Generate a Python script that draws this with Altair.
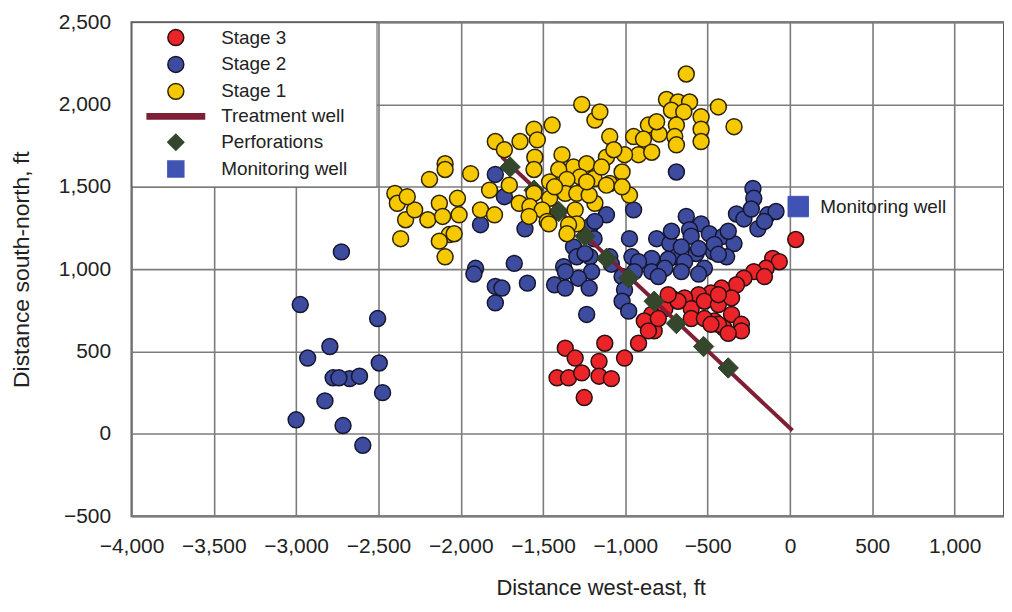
import altair as alt
import pandas as pd

FONT = "Liberation Sans"

# ---------------- data (ft) ----------------
stage1_x = [-630, -750, -680, -610, -435, -720, -645, -540, -340, -690, -540, -860, -795, -700, -690,
            -950, -890, -1095, -920, -1005, -1115, -1020, -1095, -1185, -975, -1265, -1185, -1155,
            -1445, -1555, -1640, -1535, -1790, -1735, -1550, -1555, -1385, -1315, -1405, -1235, -1275,
            -1355, -1460, -1190, -1115, -1365, -1295, -1460, -1555, -1645, -1580, -1505, -1305, -1475,
            -1585, -1295, -1705, -1825, -1880, -1795, -2095, -2190, -1940, -2400, -2385, -2335, -2280,
            -2200, -2130, -2110, -2020, -2010, -2365, -2070, -2130, -2095, -1465, -1345, -1220, -1355,
            -2040, -2095, -1430, -1235, -1145, -1070, -840, -810, -540, -1020, -2325]
stage1_y = [2185, 2030, 2015, 2015, 1985, 1965, 1955, 1925, 1865, 1875, 1850, 1875, 1820, 1805, 1755,
            1805, 1790, 1805, 1695, 1695, 1680, 1590, 1520, 1400, 1450, 2000, 1905, 1955,
            1875, 1850, 1775, 1785, 1775, 1725, 1680, 1605, 1695, 1620, 1605, 1640, 1560,
            1545, 1530, 1550, 1510, 1460, 1460, 1430, 1460, 1400, 1380, 1360, 1360, 1290,
            1320, 1275, 1510, 1480, 1360, 1330, 1640, 1545, 1580, 1460, 1400, 1300, 1360,
            1300, 1400, 1320, 1430, 1330, 1185, 1210, 1170, 1075, 1275, 1270, 1450, 1215,
            1215, 1605, 1500, 1530, 1620, 1725, 1710, 1895, 1775, 1500, 1440]

stage2_x = [-1790, -1735, -1880, -1610, -1675, -1910, -1375, -690, -950, -1115, -1215, -975, -1190,
            -1315, -1295, -1215, -1095, -960, -810, -730, -630, -540, -490, -405, -325, -340, -610,
            -690, -570, -465, -385, -1185, -1245, -720, -600, -660, -555, -460, -375, -280, -225,
            -220, -235, -135, -85, -195, -155, -435, -520, -640, -740, -840, -920, -1085, -945, -840,
            -760, -660, -555, -800, -1020, -1205, -1285, -1365, -1430, -1365, -1220, -1005, -1020,
            -980, -1235, -1790, -1750, -1595, -1790, -1920,
            -2725, -2975, -2505, -2795, -2930, -2495, -2775, -2675, -2615, -2740, -2475, -2825,
            -3000, -2715, -2595]
stage2_y = [1575, 1440, 1270, 1245, 1035, 1005, 1015, 1590, 1360, 1330, 1260, 1185, 1185,
            1135, 1075, 1075, 1075, 1075, 1185, 1155, 1320, 1275, 1215, 1200, 1335, 1155, 1240,
            1075, 1095, 1105, 1075, 1290, 1095, 1230, 1200, 1135, 1125, 1150, 1230, 1305, 1490,
            1430, 1365, 1330, 1350, 1245, 1290, 1090, 1005, 1045, 1060, 1065, 1045, 1030, 985, 985,
            1005, 985, 970, 955, 955, 985, 945, 985, 905, 885, 885, 875, 805,
            745, 725, 895, 885, 915, 795, 970,
            1105, 785, 700, 530, 460, 430, 340, 335, 350, 340, 250, 200,
            85, 50, -70]

stage3_x = [35, -105, -65, -145, -220, -280, -325, -415, -480, -555, -640, -720, -760, -840, -600,
            -520, -435, -355, -295, -400, -460, -600, -885, -825, -920, -1125, -1365, -155, -355,
            -435, -680, -740, -520, -435, -295, -375, -480, -800, -860, -1005, -1160, -1160, -1085,
            -1305, -1415, -1345, -1265, -1250]
stage3_y = [1180, 1065, 1045, 1005, 985, 945, 905, 885, 855, 845, 825, 825, 760, 725, 760,
            805, 785, 725, 665, 640, 685, 700, 685, 625, 550, 550, 520, 955, 825,
            845, 805, 845, 700, 665, 625, 610, 665, 700, 625, 460, 440, 350, 335,
            460, 340, 340, 370, 220]

perf_x = [-375, -525, -690, -825, -980, -1115, -1245, -1405, -1555, -1700]
perf_y = [400, 530, 670, 805, 945, 1065, 1200, 1350, 1480, 1620]

well_x = [-1750, 15]
well_y = [1680, 20]

monitor_x = [50]
monitor_y = [1380]

SERIES = ["Stage 3", "Stage 2", "Stage 1", "Treatment well", "Perforations", "Monitoring well"]
FILLS = ["#ea2429", "#3d4c9e", "#f6c800", "#7d1f35", "#34472d", "#4052b4"]
STROKES = ["#2a1010", "#161630", "#2e2400", "#7d1f35", "#34472d", "#4052b4"]
SHAPES = ["circle", "circle", "circle", "M-3.6,-0.33H3.6V0.33H-3.6Z", "diamond", "square"]

X_TICKS = list(range(-4000, 1001, 500))
Y_TICKS = list(range(-500, 2501, 500))


def frame(xs, ys, name):
    return pd.DataFrame({"x": xs, "y": ys, "series": [name] * len(xs)})


d1 = frame(stage1_x, stage1_y, "Stage 1")
d2 = frame(stage2_x, stage2_y, "Stage 2")
d3 = frame(stage3_x, stage3_y, "Stage 3")
dp = frame(perf_x, perf_y, "Perforations")
dw = frame(well_x, well_y, "Treatment well")
dm = frame(monitor_x, monitor_y, "Monitoring well")

# ---------------- scales / axes / legend ----------------
xs = alt.Scale(domain=[-4000, 1300], nice=False, zero=False)
ys = alt.Scale(domain=[-500, 2500], nice=False, zero=False)

xaxis = alt.Axis(values=X_TICKS, format=",.0f", grid=True, domain=False, ticks=False, tickSize=0,
                 labelFontSize=21, labelFont=FONT, labelColor="#222", labelPadding=31,
                 labelBaseline="middle", labelFlush=False, labelOverlap=False,
                 title="Distance west-east, ft", titleFont=FONT, titleFontSize=22,
                 titleFontWeight="normal", titleColor="#222", titleX=471, titleY=72,
                 titleBaseline="middle", titleAlign="center")
yaxis = alt.Axis(values=Y_TICKS, format=",.0f", grid=True, domain=False, ticks=False, tickSize=0,
                 labelFontSize=21, labelFont=FONT, labelColor="#222", labelPadding=21,
                 labelFlush=False, labelOverlap=False,
                 title="Distance south-north, ft", titleFont=FONT, titleFontSize=23,
                 titleFontWeight="normal", titleColor="#222", titleX=-110, titleY=248,
                 titleBaseline="middle", titleAlign="center", titleAngle=270)

leg = alt.Legend(title=" ", titleOrient="right", titlePadding=23, titleFontSize=19,
                 orient="none", legendX=0, legendY=0, fillColor="white",
                 strokeColor="#555", padding=6, rowPadding=4, symbolOffset=29, labelOffset=36,
                 labelFontSize=19, labelFont=FONT, labelColor="#222", symbolSize=256,
                 symbolStrokeWidth=1.5, labelLimit=300)

fill_scale = alt.Scale(domain=SERIES, range=FILLS)
stroke_scale = alt.Scale(domain=SERIES, range=STROKES)
shape_scale = alt.Scale(domain=SERIES, range=SHAPES)

X = alt.X("x:Q", scale=xs, axis=xaxis)
Y = alt.Y("y:Q", scale=ys, axis=yaxis)


def points(df, size, sw):
    return alt.Chart(df).mark_point(filled=True, opacity=1, size=size, strokeWidth=sw).encode(
        x=X, y=Y,
        fill=alt.Fill("series:N", scale=fill_scale, legend=leg),
        stroke=alt.Stroke("series:N", scale=stroke_scale, legend=leg),
        shape=alt.Shape("series:N", scale=shape_scale, legend=leg),
    )


blue = points(d2, 256, 1.5)
red = points(d3, 256, 1.5)
line = alt.Chart(dw).mark_line(strokeWidth=4).encode(
    x=X, y=Y, stroke=alt.Stroke("series:N", scale=stroke_scale, legend=leg))
perf = points(dp, 420, 1)
yellow = points(d1, 256, 1.5)
mon = points(dm, 420, 1)
mon_text = alt.Chart(dm).mark_text(align="left", baseline="middle", dx=22, fontSize=19,
                                   font=FONT, color="#222").encode(x=X, y=Y, text="series:N")

chart = alt.layer(blue, red, line, perf, yellow, mon, mon_text).properties(
    width=876, height=496,
    autosize=alt.AutoSizeParams(type="none"),
    padding={"left": 124, "top": 13, "right": 0, "bottom": 83},
).configure_view(stroke="#555", strokeWidth=2).configure_axis(
    gridColor="#7c7c7c", gridWidth=1.6, gridOpacity=1)

chart.save("out.html", embed_options={"renderer": "svg", "actions": False})
